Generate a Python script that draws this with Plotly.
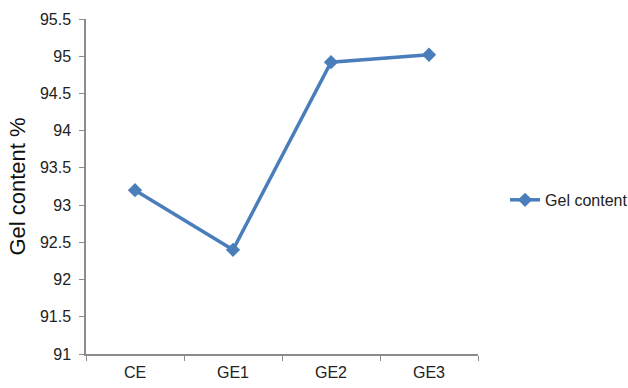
import plotly.graph_objects as go

# Gel content measured for each sample
samples = ["CE", "GE1", "GE2", "GE3"]
gel_content = [93.2, 92.4, 94.92, 95.02]
y_ticks = [91, 91.5, 92, 92.5, 93, 93.5, 94, 94.5, 95, 95.5]
y_tick_text = ["91", "91.5", "92", "92.5", "93", "93.5", "94", "94.5", "95", "95.5"]

blue = "#4A7EBB"
axis_grey = "#8C8C8C"
font_family = "Liberation Sans, Arial, sans-serif"

fig = go.Figure()
fig.add_trace(go.Scatter(
    x=samples,
    y=gel_content,
    mode="lines+markers",
    name="Gel content",
    line=dict(color=blue, width=3.5),
    marker=dict(symbol="diamond", size=11, color=blue),
))

fig.update_layout(
    width=628,
    height=388,
    margin=dict(l=86, r=150, t=19, b=34, autoexpand=False),
    paper_bgcolor="white",
    plot_bgcolor="white",
    font=dict(family=font_family, size=16, color="#222222"),
    showlegend=True,
    legend=dict(
        # placed just right of the plot area, vertically near the middle
        x=1.069, y=0.46, xanchor="left", yanchor="middle",
        font=dict(size=16, color="#222222"),
        bgcolor="rgba(0,0,0,0)",
    ),
)

fig.update_xaxes(
    type="category",
    range=[-0.5, 3.5],
    showline=True, linecolor=axis_grey, linewidth=1.5,
    ticks="outside", tickson="boundaries", ticklen=5, tickcolor=axis_grey,
    showgrid=False, zeroline=False, automargin=False,
    tickfont=dict(size=16, color="#222222"),
    ticklabelstandoff=3,
)

fig.update_yaxes(
    range=[91, 95.5],
    tickvals=y_ticks, ticktext=y_tick_text,
    showline=True, linecolor=axis_grey, linewidth=1.5,
    ticks="outside", ticklen=5, tickcolor=axis_grey,
    showgrid=False, zeroline=False, automargin=False,
    tickfont=dict(size=16, color="#222222"),
    ticklabelstandoff=5,
    title=dict(text="Gel content %", font=dict(size=22, color="#111111"), standoff=8),
)

fig.write_html("out.html")
